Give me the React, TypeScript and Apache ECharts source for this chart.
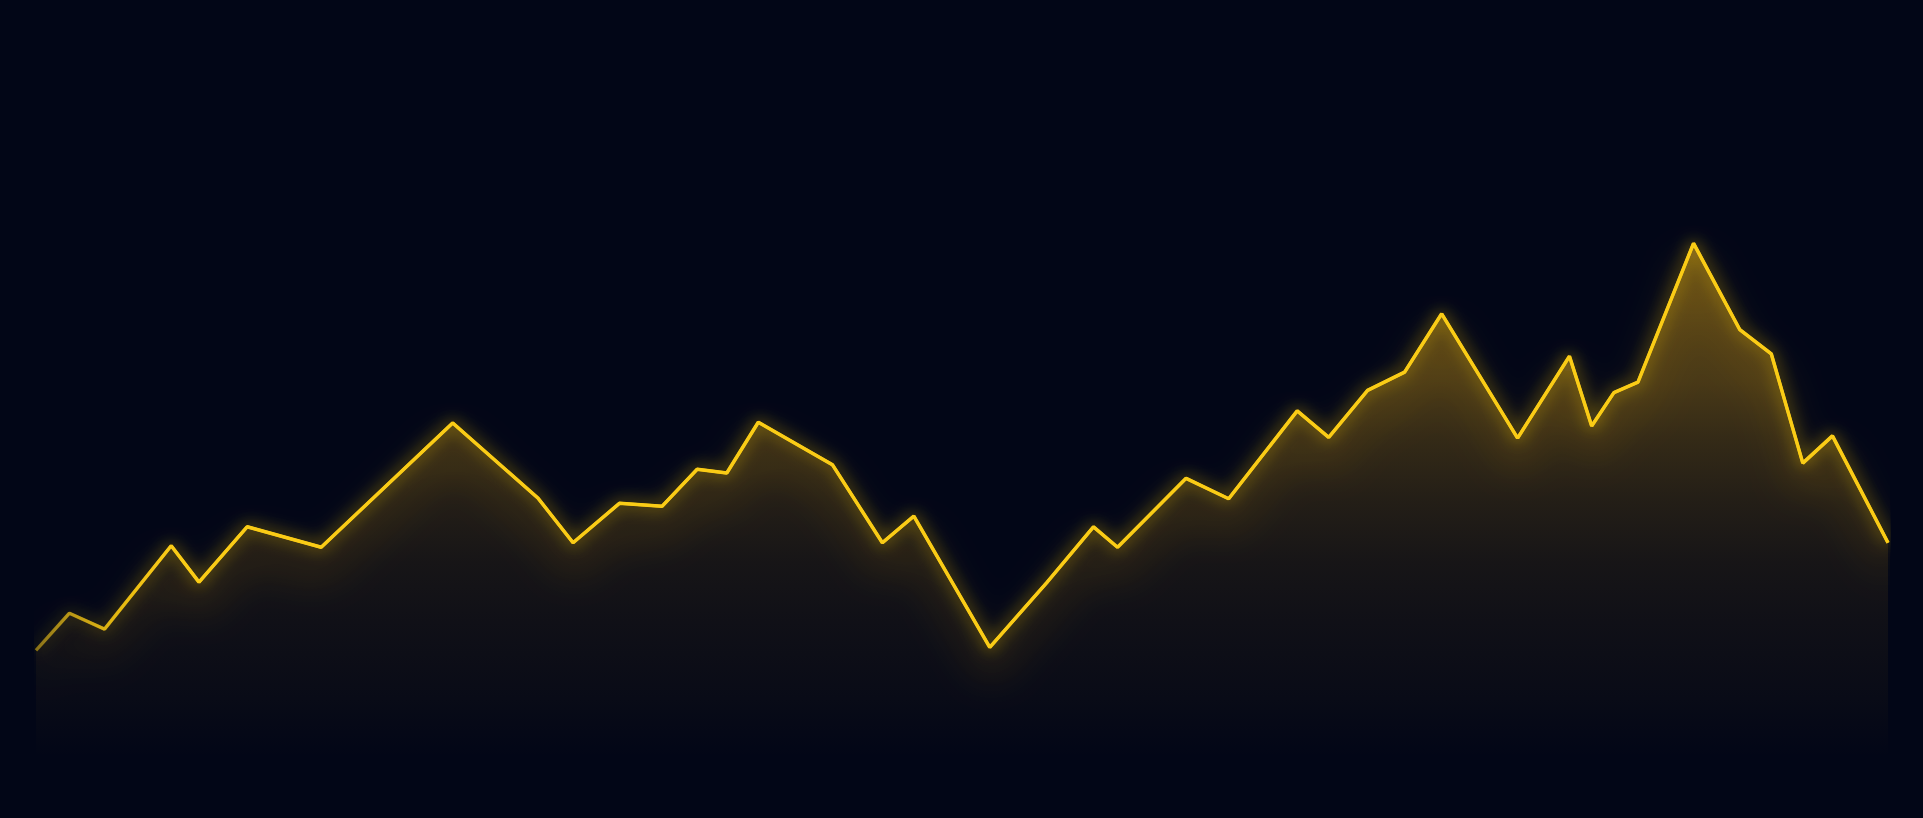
// 发光面积折线图
import { useRef, useEffect } from "react";
import * as echarts from "echarts";

// 横坐标(0~100)
const xs = [
  0, 1.8, 3.7, 7.3, 8.8, 11.4, 15.4, 22.5, 27.1, 29.0, 31.5, 33.8, 35.7, 37.3,
  39.0, 43.0, 45.7, 47.4, 51.5, 54.6, 57.1, 58.4, 62.1, 64.4, 68.1, 69.8, 71.9,
  73.9, 75.9, 80.0, 82.8, 84.0, 85.2, 86.5, 89.5, 92.0, 93.7, 95.4, 97.0, 100,
];
// 数值
const values = [
  14.2, 19.1, 17.0, 28.0, 23.2, 30.5, 27.8, 44.2, 34.3, 28.4, 33.6, 33.2, 38.1,
  37.6, 44.3, 38.7, 28.4, 31.9, 14.6, 23.2, 30.5, 27.8, 36.9, 34.2, 45.8, 42.3,
  48.5, 50.9, 58.6, 42.2, 53.0, 43.8, 48.2, 49.6, 67.9, 56.5, 53.3, 38.9, 42.5,
  28.4,
];

const YELLOW = "#facc15";
const fill = (a: number) => `rgba(240,178,22,${a})`;

const App = () => {
  const chartRef = useRef<HTMLDivElement>(null);

  useEffect(() => {
    const myChart = echarts.init(chartRef.current, null, { renderer: "svg" });
    const points = xs.map((x, i) => [x, values[i]]);
    const fadeIn = (c: string) =>
      new echarts.graphic.LinearGradient(0, 0, 1, 0, [
        { offset: 0, color: "rgba(250,204,21,0.3)" },
        { offset: 0.08, color: c },
        { offset: 1, color: c },
      ]);

    myChart.setOption({
      animation: false,
      backgroundColor: "#020617",
      grid: { left: 36, right: 35, top: 0, bottom: 60 },
      xAxis: { type: "value", min: 0, max: 100, show: false },
      yAxis: { type: "value", min: 0, max: 100, show: false },
      series: [
        {
          type: "line",
          data: points,
          symbol: "none",
          lineStyle: { width: 0 },
          areaStyle: {
            color: new echarts.graphic.LinearGradient(0, 0, 0, 1, [
              { offset: 0, color: fill(0.58) },
              { offset: 0.27, color: fill(0.42) },
              { offset: 0.38, color: fill(0.3) },
              { offset: 0.5, color: fill(0.2) },
              { offset: 0.62, color: fill(0.125) },
              { offset: 0.73, color: fill(0.085) },
              { offset: 0.89, color: fill(0.04) },
              { offset: 1, color: fill(0) },
            ]),
          },
          silent: true,
        },
        // 线下方的柔光
        {
          type: "line",
          data: points,
          symbol: "none",
          lineStyle: {
            width: 3,
            color: fadeIn("rgba(240,178,22,1)"),
            shadowBlur: 40,
            shadowOffsetY: 22,
            shadowColor: "rgba(240,170,22,0.85)",
          },
          silent: true,
        },
        {
          type: "line",
          data: points,
          symbol: "none",
          lineStyle: {
            width: 3.5,
            color: fadeIn(YELLOW),
            shadowBlur: 16,
            shadowColor: "rgba(250,204,21,0.8)",
          },
        },
      ],
    });

    return () => {
      myChart.dispose();
    };
  }, []);

  return (
    <div
      ref={chartRef}
      style={{ position: "fixed", left: 0, top: 0, width: "100vw", height: "100vh" }}
    ></div>
  );
};

export default App;
